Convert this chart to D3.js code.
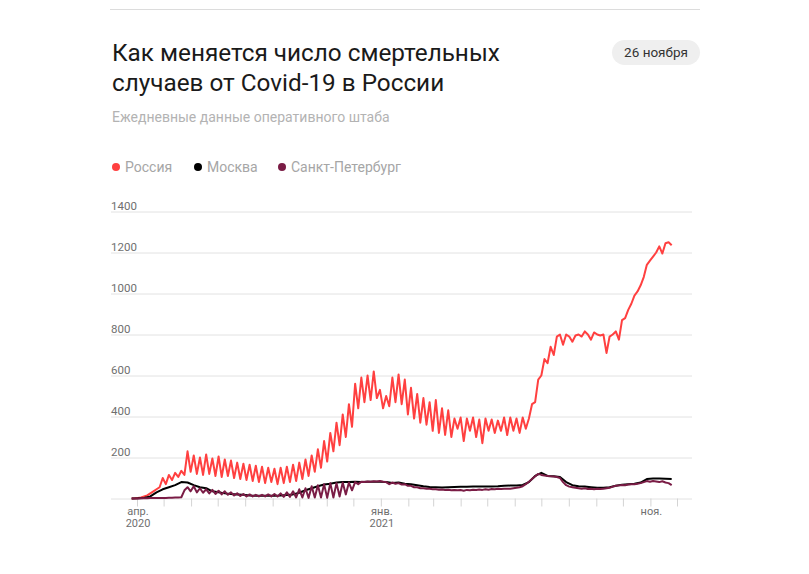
<!DOCTYPE html>
<html>
<head>
<meta charset="utf-8">
<script src="https://cdn.jsdelivr.net/npm/d3@7"></script>
<style>
    body { margin: 0; background: #fff; }
    svg { display: block; font-family: Roboto, "Noto Sans", sans-serif; }
</style>
</head>
<body>
<svg id="chart" width="809" height="574"></svg>
<script>
// Daily deaths, read off the chart. Russia and St Petersburg are sampled
// every 3.5 days (weekly peak / trough), Moscow once a week.
const russiaStart = '2020-03-26';
const russiaStepDays = 3.5;
const russiaValues = [
    0, 1, 3, 5, 10, 15, 25, 35, 45, 55,
    100, 70, 115, 90, 125, 105, 135, 115, 230, 130,
    210, 120, 200, 115, 215, 120, 195, 110, 205, 105,
    190, 110, 185, 100, 175, 95, 170, 90, 165, 85,
    160, 80, 155, 75, 150, 80, 145, 70, 150, 75,
    155, 80, 165, 85, 175, 95, 190, 110, 210, 130,
    240, 150, 280, 180, 320, 230, 370, 260, 410, 300,
    460, 350, 560, 440, 590, 470, 600, 480, 620, 490,
    530, 440, 500, 450, 590, 470, 605, 460, 580, 410,
    540, 390, 510, 370, 490, 360, 470, 330, 480, 320,
    440, 310, 430, 300, 390, 340, 395, 280, 390, 330,
    395, 300, 385, 270, 390, 330, 385, 320, 380, 330,
    395, 310, 395, 330, 390, 320, 395, 340, 390, 460,
    470, 580, 600, 680, 660, 740, 700, 790, 800, 750,
    800, 790, 765, 795, 800, 790, 815, 800, 775, 810,
    800, 795, 800, 710, 790, 800, 815, 775, 870, 880,
    920, 950, 990, 1010, 1040, 1080, 1140, 1160, 1180, 1200,
    1230, 1195, 1245, 1250, 1235
];

const moscowStart = '2020-03-26';
const moscowStepDays = 7;
const moscowValues = [
    0, 1, 3, 10, 30, 45, 55, 65, 80, 78,
    65, 55, 50, 35, 30, 25, 22, 20, 18, 15,
    14, 13, 13, 14, 15, 17, 20, 28, 40, 50,
    60, 68, 72, 78, 80, 80, 82, 80, 82, 82,
    82, 80, 76, 78, 72, 70, 65, 60, 56, 55,
    54, 55, 56, 57, 57, 58, 58, 58, 59, 60,
    62, 63, 64, 66, 80, 110, 125, 110, 108, 105,
    80, 65, 60, 58, 55, 52, 52, 55, 62, 67,
    70, 72, 78, 95, 97, 97, 96, 95
];

const spbStart = '2020-03-26';
const spbStepDays = 3.5;
const spbValues = [
    0, 0, 0, 1, 1, 1, 2, 2, 2, 3,
    3, 3, 4, 4, 5, 5, 6, 40, 55, 35,
    60, 30, 50, 28, 45, 25, 42, 22, 38, 20,
    35, 18, 30, 15, 25, 12, 22, 10, 20, 10,
    18, 10, 18, 10, 20, 10, 22, 10, 25, 8,
    30, 8, 35, 5, 45, 5, 50, 3, 60, 5,
    65, 5, 70, 3, 75, 5, 75, 10, 78, 20,
    78, 40, 80, 70, 82, 80, 83, 82, 84, 83,
    85, 82, 80, 70, 78, 72, 75, 68, 70, 62,
    62, 55, 55, 50, 50, 48, 47, 45, 45, 43,
    44, 42, 43, 40, 42, 40, 41, 38, 42, 40,
    43, 41, 44, 42, 45, 43, 46, 45, 47, 46,
    48, 47, 48, 50, 52, 55, 60, 70, 82, 95,
    108, 120, 115, 112, 110, 108, 107, 105, 100, 80,
    65, 58, 55, 52, 50, 48, 50, 46, 48, 45,
    47, 46, 48, 50, 52, 58, 62, 64, 66, 65,
    68, 70, 70, 72, 75, 80, 85, 82, 85, 83,
    80, 84, 78, 75, 65
];

const seriesNames = ['Россия', 'Москва', 'Санкт-Петербург'];
const seriesColors = ['#ff4040', '#000000', '#7a1c45'];

const yTicks = [0, 200, 400, 600, 800, 1000, 1200, 1400];
const xDomain = ['2020-04-01', '2021-12-01'];
const xLabelDates = ['2020-04-01', '2021-01-01', '2021-11-01'];
const xLabelLines = [['апр.', '2020'], ['янв.', '2021'], ['ноя.']];

const titleLines = ['Как меняется число смертельных', 'случаев от Covid-19 в России'];
const subtitle = 'Ежедневные данные оперативного штаба';
const dateBadge = '26 ноября';

// ---- layout
const svg = d3.select('#chart');
const gridLeft = 111, gridRight = 692;
const parse = d3.timeParse('%Y-%m-%d');

const x = d3.scaleTime()
    .domain(xDomain.map(parse))
    .range([137, 677]);

const y = d3.scaleLinear()
    .domain([0, 1400])
    .range([498.5, 211.5]);

// Top rule
svg.append('line')
    .attr('x1', 110).attr('x2', 700)
    .attr('y1', 9.5).attr('y2', 9.5)
    .attr('stroke', '#dcdcdc');

// Title + subtitle
svg.append('text')
    .attr('x', 112).attr('y', 61)
    .style('font-size', '24.3px')
    .style('fill', '#1a1a1a')
    .selectAll('tspan')
    .data(titleLines)
    .enter()
    .append('tspan')
    .attr('x', 112)
    .attr('dy', (d, i) => i ? 30 : 0)
    .text(d => d);

svg.append('text')
    .attr('x', 112).attr('y', 122)
    .style('font-size', '14px')
    .style('fill', '#b3b3b3')
    .text(subtitle);

// Date badge
const badge = svg.append('g').attr('transform', 'translate(612,40)');
badge.append('rect')
    .attr('width', 88).attr('height', 25)
    .attr('rx', 12.5)
    .attr('fill', '#efefef');
badge.append('text')
    .attr('x', 44).attr('y', 17)
    .attr('text-anchor', 'middle')
    .style('font-size', '13.5px')
    .style('fill', '#333')
    .text(dateBadge);

// Legend
const legendX = [116, 198, 282];
const legend = svg.append('g').attr('transform', 'translate(0,167)');
seriesNames.forEach((name, i) => {
    legend.append('circle')
        .attr('cx', legendX[i]).attr('cy', 0)
        .attr('r', 4)
        .attr('fill', seriesColors[i]);
    legend.append('text')
        .attr('x', legendX[i] + 9).attr('y', 5)
        .style('font-size', '14px')
        .style('fill', '#a6a6a6')
        .text(name);
});

// Y gridlines with labels sitting on top of them
const yAxis = svg.append('g')
    .attr('transform', `translate(${gridLeft},0)`)
    .call(d3.axisRight(y)
        .tickValues(yTicks)
        .tickSize(gridRight - gridLeft)
        .tickFormat(d => d === 0 ? '' : d));
yAxis.select('.domain').remove();
yAxis.selectAll('line').attr('stroke', '#e2e2e2');
yAxis.selectAll('text')
    .attr('x', 0)
    .attr('dy', -2.5)
    .attr('text-anchor', 'start')
    .style('font-size', '11.5px')
    .style('font-family', 'Roboto, sans-serif')
    .style('fill', '#6f6f6f');

// X axis: monthly ticks, only a few labelled
const xAxis = svg.append('g')
    .attr('transform', `translate(0,${y(0)})`)
    .call(d3.axisBottom(x)
        .ticks(d3.timeMonth.every(1))
        .tickSize(8)
        .tickFormat(''));
xAxis.select('.domain').remove();
xAxis.selectAll('line').attr('stroke', '#d4d4d4');

xLabelDates.forEach((d, i) => {
    const t = svg.append('text')
        .attr('x', x(parse(d)) + 1)
        .attr('y', 515)
        .attr('text-anchor', 'middle')
        .style('font-size', '11px')
        .style('fill', '#6f6f6f');
    xLabelLines[i].forEach((line, j) => {
        t.append('tspan')
            .attr('x', x(parse(d)) + 1)
            .attr('dy', j ? 12 : 0)
            .text(line);
    });
});

// Lines
function toPoints(start, step, values) {
    const t0 = parse(start);
    return values.map((v, i) => ({
        date: new Date(t0.getTime() + i * step * 864e5),
        value: v
    }));
}

const series = [
    toPoints(russiaStart, russiaStepDays, russiaValues),
    toPoints(moscowStart, moscowStepDays, moscowValues),
    toPoints(spbStart, spbStepDays, spbValues)
];

const line = d3.line()
    .x(d => x(d.date))
    .y(d => y(d.value));

svg.append('g')
    .selectAll('path')
    .data(series)
    .enter()
    .append('path')
    .attr('d', line)
    .attr('fill', 'none')
    .attr('stroke', (d, i) => seriesColors[i])
    .attr('stroke-width', 2)
    .attr('stroke-linejoin', 'round');
</script>
</body>
</html>
